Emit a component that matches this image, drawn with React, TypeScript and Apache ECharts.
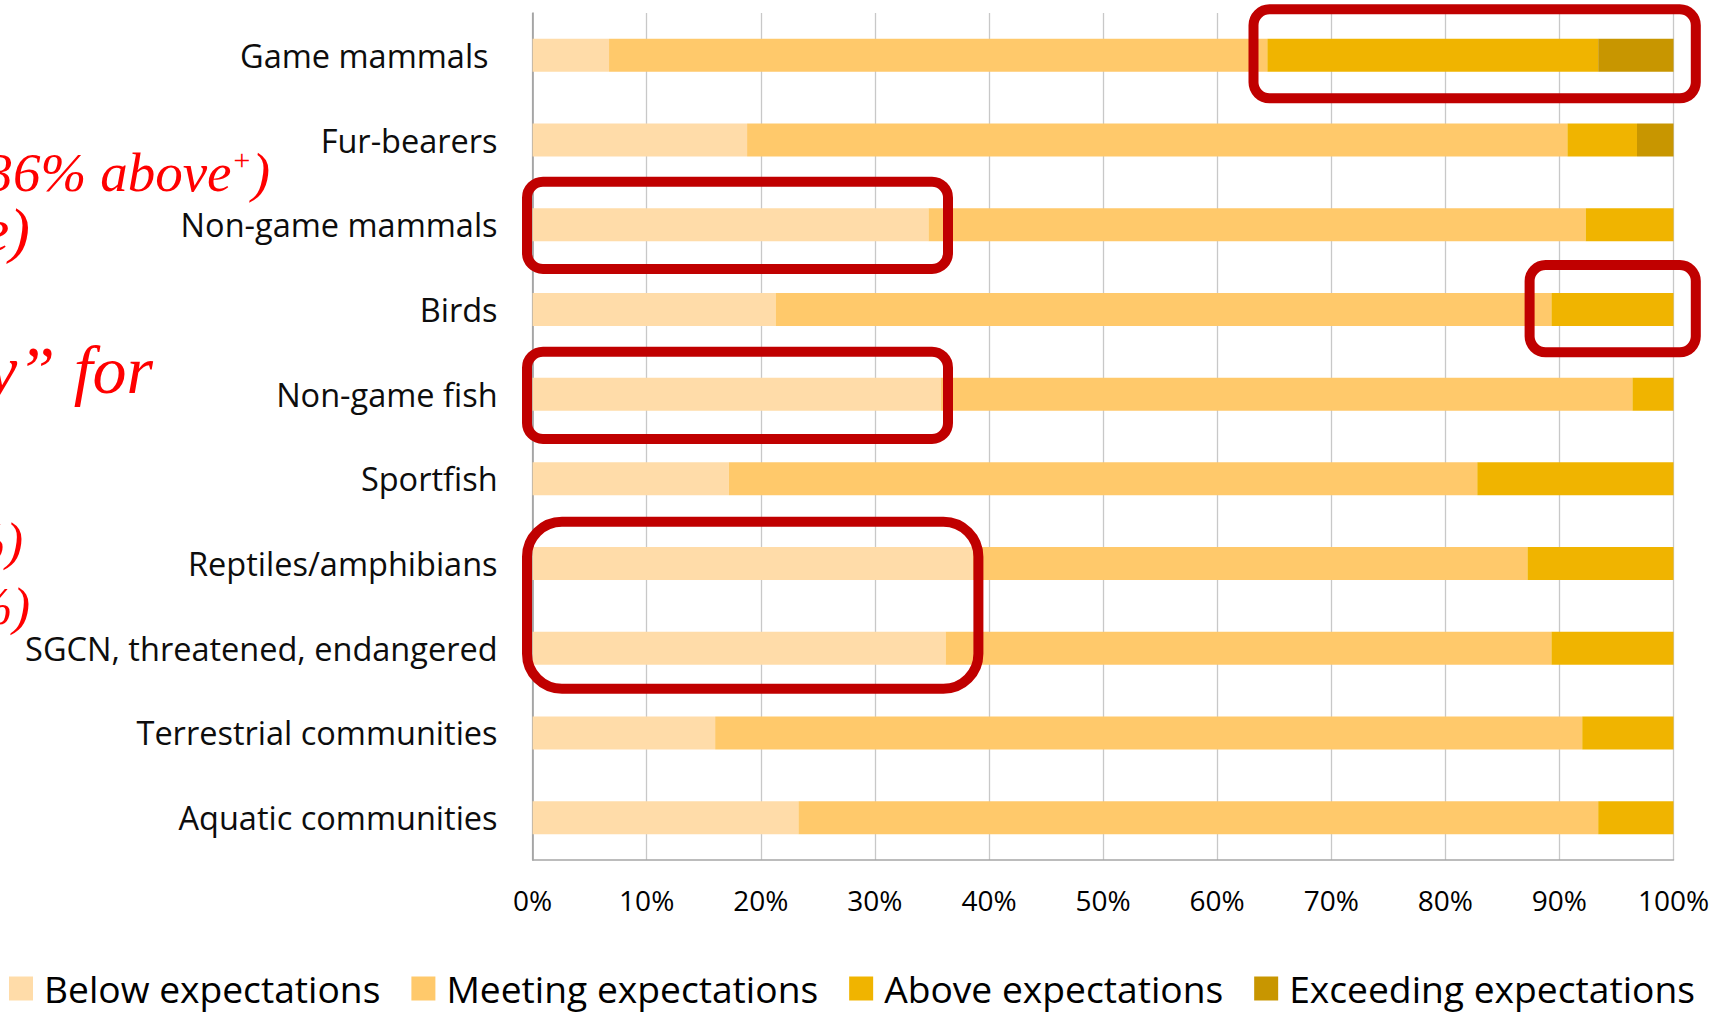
import React, { useEffect, useRef } from "react";
import * as echarts from "echarts";

const categories = [
  "Game mammals",
  "Fur-bearers",
  "Non-game mammals",
  "Birds",
  "Non-game fish",
  "Sportfish",
  "Reptiles/amphibians",
  "SGCN, threatened, endangered",
  "Terrestrial communities",
  "Aquatic communities",
];

const seriesNames = [
  "Below expectations",
  "Meeting expectations",
  "Above expectations",
  "Exceeding expectations",
];

const belowValues = [6.7, 18.8, 34.7, 21.3, 35.8, 17.2, 38.6, 36.2, 16.0, 23.3];
const meetingValues = [57.7, 71.9, 57.6, 68.0, 60.6, 65.6, 48.6, 53.1, 76.0, 70.1];
const aboveValues = [29.0, 6.1, 7.7, 10.7, 3.6, 17.2, 12.8, 10.7, 8.0, 6.6];
const exceedingValues = [6.6, 3.2, 0, 0, 0, 0, 0, 0, 0, 0];

const tickValues = [0, 10, 20, 30, 40, 50, 60, 70, 80, 90, 100];

const colors = ["#FFDCA9", "#FFC96B", "#F0B400", "#C89600"];

export default function App() {
  const ref = useRef<HTMLDivElement>(null);

  useEffect(() => {
    if (!ref.current) return;
    const chart = echarts.init(ref.current, undefined, { renderer: "svg" });
    const allValues = [belowValues, meetingValues, aboveValues, exceedingValues];
    const redFont = (size: number) => `italic ${size}px "Liberation Serif"`;
    const redText = (text: string, x: number, y: number, size: number, align: string, rich?: any) => ({
      type: "text",
      z: 100,
      style: {
        text,
        x,
        y,
        font: redFont(size),
        fontFamily: "Liberation Serif",
        fontStyle: "italic",
        fontSize: size,
        fill: "#FF0000",
        align,
        verticalAlign: "middle",
        textAlign: align,
        textVerticalAlign: "middle",
        rich,
      },
    });
    const box = (x: number, y: number, w: number, h: number, r: number) => ({
      type: "rect",
      z: 100,
      shape: { x, y, width: w, height: h, r },
      style: { fill: "none", stroke: "#C00000", lineWidth: 10 },
    });

    chart.setOption({
      animation: false,
      color: colors,
      grid: { left: 532.6, right: 47.5, top: 13, bottom: 152, containLabel: false },
      xAxis: {
        type: "value",
        min: tickValues[0],
        max: tickValues[tickValues.length - 1],
        interval: 10,
        axisLine: { show: true, lineStyle: { color: "#A6A6A6", width: 1.5 } },
        axisTick: { show: false },
        splitLine: { show: true, lineStyle: { color: "#C8C8C8", width: 1.3 } },
        axisLabel: {
          formatter: "{value}%",
          fontFamily: "Open Sans",
          fontSize: 28,
          color: "#000000",
          margin: 26,
        },
      },
      yAxis: {
        type: "category",
        data: categories,
        inverse: true,
        axisLine: { show: true, lineStyle: { color: "#9A9A9A", width: 1.5 } },
        axisTick: { show: false },
        axisLabel: {
          fontFamily: "Open Sans",
          fontSize: 32.5,
          color: "#0D0D0D",
          margin: 35,
          formatter: (v: string) => (v === "Game mammals" ? `{p|${v}}` : v),
          rich: {
            p: {
              fontFamily: "Open Sans",
              fontSize: 32.5,
              color: "#0D0D0D",
              padding: [0, 9, 0, 0],
            },
          },
        },
      },
      legend: {
        left: 9,
        top: 970,
        padding: 0,
        icon: "rect",
        itemWidth: 24,
        itemHeight: 24,
        itemGap: 31,
        data: seriesNames,
        textStyle: {
          fontFamily: "Open Sans",
          fontSize: 37.2,
          color: "#000000",
          padding: [0, 0, 0, 6],
        },
      },
      series: seriesNames.map((name, i) => ({
        name,
        type: "bar",
        stack: "total",
        barWidth: 33,
        data: allValues[i],
        itemStyle: { color: colors[i] },
      })),
      graphic: [
        box(1253.5, 9.3, 442.3, 89, 16),
        box(1529.6, 265, 166.2, 87.3, 16),
        box(527, 181.7, 421, 87.3, 16),
        box(527, 351.7, 421, 87.3, 16),
        box(527, 521.7, 451.4, 167, 35),
        redText("{a|36% above}{s|+}{a|)}", 270, 172, 55, "right", {
          a: { fontFamily: "Liberation Serif", fontStyle: "italic", fontSize: 55, color: "#FF0000" },
          s: {
            fontFamily: "Liberation Serif",
            fontStyle: "italic",
            fontSize: 30,
            color: "#FF0000",
            verticalAlign: "top",
          },
        }),
        redText("e)", 30, 230, 62, "right"),
        redText("y\u201D", 55, 370, 68, "right"),
        redText("for", 153, 370, 68, "right"),
        redText("%)", 23, 541.5, 52, "right"),
        redText("%)", 30, 606.5, 52, "right"),
      ],
    });
    return () => chart.dispose();
  }, []);

  return (
    <div
      ref={ref}
      style={{ position: "fixed", left: 0, top: 0, width: 1721, height: 1012, background: "#FFFFFF" }}
    />
  );
}
